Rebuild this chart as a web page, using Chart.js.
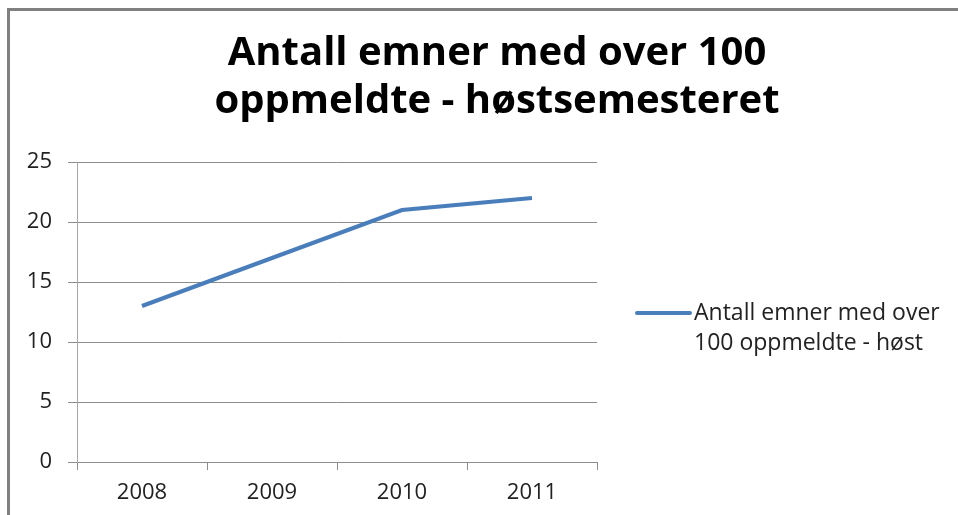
<!DOCTYPE html>
<html>
<head>
<meta charset="utf-8">
<script src="https://cdn.jsdelivr.net/npm/chart.js@4/dist/chart.umd.min.js"></script>
<style>
  html, body { margin: 0; padding: 0; background: #fff; overflow: hidden; }
  canvas { display: block; }
</style>
</head>
<body>
<canvas id="myChart" width="958" height="515"></canvas>
<script>
const years = ['2008', '2009', '2010', '2011'];
const courses = [13, 17, 21, 22];
const seriesLabel = 'Antall emner med over 100 oppmeldte - høst';
const legendLines = ['Antall emner med over', '100 oppmeldte - høst'];
const titleLines = ['Antall emner med over 100', 'oppmeldte - høstsemesteret'];
const yMin = 0, yMax = 25, yStep = 5;

const lineBlue = '#4a7ebb';
const gridGrey = '#8c8c8c';

// frame of the (cropped) chart object: only top and left edges are visible
const framePlugin = {
    id: 'frame',
    beforeDraw: (chart) => {
        const ctx = chart.ctx;
        ctx.save();
        ctx.fillStyle = 'white';
        ctx.fillRect(0, 0, chart.width, chart.height);
        ctx.strokeStyle = '#808080';
        ctx.lineWidth = 3;
        ctx.beginPath();
        ctx.moveTo(8.5, chart.height + 5);
        ctx.lineTo(8.5, 9.5);
        ctx.lineTo(chart.width + 5, 9.5);
        ctx.stroke();
        ctx.restore();
    }
};

// legend with wrapped text, placed right of the plot
const wrapLegend = {
    id: 'wrapLegend',
    afterDraw: (chart) => {
        const ctx = chart.ctx;
        const ds = chart.data.datasets[0];
        const x0 = 637, y0 = 313;
        ctx.save();
        ctx.strokeStyle = ds.borderColor;
        ctx.lineWidth = 4;
        ctx.lineCap = 'round';
        ctx.beginPath();
        ctx.moveTo(x0, y0);
        ctx.lineTo(x0 + 53, y0);
        ctx.stroke();
        ctx.fillStyle = '#222';
        ctx.font = '23px "Open Sans"';
        ctx.textBaseline = 'middle';
        legendLines.forEach((t, i) => ctx.fillText(t, x0 + 57, y0 + i * 30));
        ctx.restore();
    }
};

const ctx = document.getElementById('myChart').getContext('2d');

const myChart = new Chart(ctx, {
    type: 'line',
    plugins: [framePlugin, wrapLegend],
    data: {
        labels: years,
        datasets: [{
            label: seriesLabel,
            data: courses,
            borderColor: lineBlue,
            backgroundColor: lineBlue,
            borderWidth: 4,
            pointRadius: 0,
            tension: 0,
            fill: false
        }]
    },
    options: {
        responsive: false,
        animation: false,
        // the original chart runs past the right edge of the picture
        layout: { padding: { left: 0, right: -36, top: 0, bottom: 11 } },
        plugins: {
            legend: { display: false },
            tooltip: { enabled: false },
            title: {
                display: true,
                text: titleLines,
                color: '#000',
                font: { family: 'Open Sans', size: 40, weight: 'bold', lineHeight: 1.2 },
                padding: { top: 30, bottom: 36 }
            }
        },
        scales: {
            x: {
                offset: true,
                afterFit: (scale) => { scale.height = 42; },
                grid: {
                    offset: true,
                    drawOnChartArea: false,
                    drawTicks: true,
                    tickLength: 8,
                    color: gridGrey
                },
                border: { color: gridGrey, width: 1 },
                ticks: {
                    color: '#222',
                    padding: 10,
                    font: { family: 'Open Sans', size: 22 }
                }
            },
            y: {
                min: yMin,
                max: yMax,
                afterFit: (scale) => { scale.width = 77; },
                grid: {
                    color: gridGrey,
                    tickLength: 9
                },
                border: { color: '#a6a6a6', width: 1 },
                ticks: {
                    stepSize: yStep,
                    color: '#222',
                    padding: 16,
                    font: { family: 'Open Sans', size: 22 }
                }
            },
            // empty space on the right that holds the legend
            legendSpace: {
                type: 'linear',
                position: 'right',
                afterFit: (scale) => { scale.width = 397; },
                grid: { drawOnChartArea: false, drawTicks: false },
                border: { display: false },
                ticks: { display: false }
            }
        }
    }
});
</script>
</body>
</html>
